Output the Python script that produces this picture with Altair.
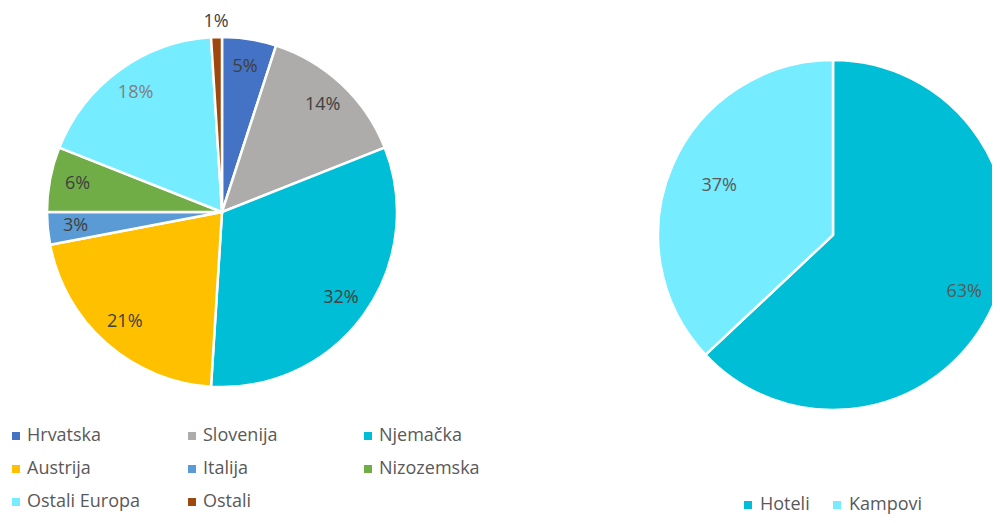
import altair as alt
import pandas as pd

origin_cats = ["Hrvatska", "Slovenija", "Njemačka", "Austrija", "Italija",
               "Nizozemska", "Ostali Europa", "Ostali"]
origin_vals = [5, 14, 32, 21, 3, 6, 18, 1]
acc_cats = ["Hoteli", "Kampovi"]
acc_vals = [63, 37]

origin_colors = ["#4472C4", "#AEABAB", "#00BED6", "#FFC000", "#5B9BD5",
                 "#70AD47", "#75ECFF", "#9E480E"]
acc_colors = ["#00BED6", "#75ECFF"]

df1 = pd.DataFrame({"cat": origin_cats, "val": origin_vals,
                    "idx": list(range(len(origin_cats)))})
df2 = pd.DataFrame({"cat": acc_cats, "val": acc_vals,
                    "idx": list(range(len(acc_cats)))})

FONT = "Open Sans"
color = alt.Color("cat:N",
                  scale=alt.Scale(domain=origin_cats + acc_cats,
                                  range=origin_colors + acc_colors),
                  legend=None)
theta_scale = alt.Scale(domain=[0, 100])

L_CX, L_CY = 214, 204
R_CX, R_CY = 825, 227
R = 175


def stacked(df):
    return (alt.Chart(df)
            .transform_stack(stack="val", as_=["v0", "v1"], groupby=[],
                             sort=[alt.SortField("idx", order="ascending")])
            .transform_calculate(mid="(datum.v0 + datum.v1) / 2",
                                 label="datum.val + '%'"))


def pie(df, cx, cy):
    return stacked(df).mark_arc(outerRadius=R, stroke="white", strokeWidth=2.5,
                                x=cx, y=cy).encode(
        theta=alt.Theta("v0:Q", scale=theta_scale),
        theta2="v1:Q",
        color=color,
    )


def labels(df, cx, cy, radius, flt, col="#404040", cond=None):
    fill = alt.value(col) if cond is None else alt.condition(cond, alt.value("#7F7F7F"), alt.value(col))
    return stacked(df).transform_filter(flt).mark_text(
        radius=radius, x=cx, y=cy, fontSize=18, font=FONT,
        align="center", baseline="middle").encode(
        theta=alt.Theta("mid:Q", scale=theta_scale),
        text="label:N",
        color=fill,
    )


left_pie = pie(df1, L_CX, L_CY)
left_lbl = labels(df1, L_CX, L_CY, 147, "datum.val >= 2", cond="datum.cat == 'Ostali Europa'")
left_lbl_out = labels(df1, L_CX, L_CY, 190, "datum.val < 2")

right_pie = pie(df2, R_CX, R_CY)
right_lbl_a = labels(df2, R_CX, R_CY, 143, "datum.cat == 'Hoteli'", col="#595959")
right_lbl_b = labels(df2, R_CX, R_CY, 124, "datum.cat == 'Kampovi'", col="#595959")

left_leg = alt.Chart(df1).transform_calculate(
    lx="8 + (datum.idx % 3) * 176",
    ly="428 + floor(datum.idx / 3) * 33",
)
left_sym = left_leg.mark_square(size=64, opacity=1).encode(
    x=alt.X("lx:Q", scale=None, axis=None),
    y=alt.Y("ly:Q", scale=None, axis=None),
    color=color,
)
left_txt = left_leg.mark_text(align="left", baseline="middle", dx=11,
                              fontSize=18, font=FONT, color="#595959").encode(
    x=alt.X("lx:Q", scale=None, axis=None),
    y=alt.Y("ly:Q", scale=None, axis=None),
    text="cat:N",
)

right_leg = alt.Chart(df2).transform_calculate(
    lx="740 + datum.idx * 89",
    ly="497",
)
right_sym = right_leg.mark_square(size=64, opacity=1).encode(
    x=alt.X("lx:Q", scale=None, axis=None),
    y=alt.Y("ly:Q", scale=None, axis=None),
    color=color,
)
right_txt = right_leg.mark_text(align="left", baseline="middle", dx=12,
                                fontSize=18, font=FONT, color="#595959").encode(
    x=alt.X("lx:Q", scale=None, axis=None),
    y=alt.Y("ly:Q", scale=None, axis=None),
    text="cat:N",
)

chart = alt.layer(
    left_pie, left_lbl, left_lbl_out,
    right_pie, right_lbl_a, right_lbl_b,
    left_sym, left_txt, right_sym, right_txt,
).properties(
    width=984, height=507,
    autosize=alt.AutoSizeParams(type="none"),
    padding=0,
).configure_view(stroke=None)

chart.save("out.html", embed_options={"renderer": "svg", "actions": False})
